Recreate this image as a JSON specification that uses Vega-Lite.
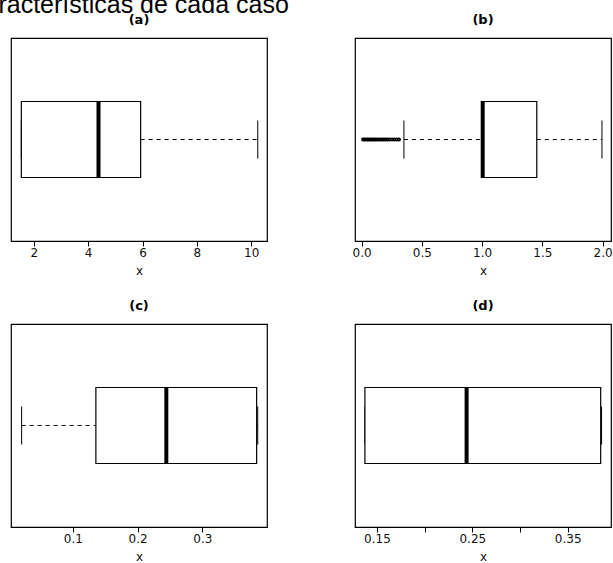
{
  "$schema": "https://vega.github.io/schema/vega-lite/v6.json",
  "background": "white",
  "padding": {"left": -2, "top": -7, "right": 0, "bottom": 0},
  "title": {"text": "racterísticas de cada caso", "anchor": "start", "fontSize": 25, "fontWeight": "normal", "font": "Liberation Sans", "color": "black", "dx": -12, "offset": -5},
  "datasets": {
    "stats": [
      {"panel": "a", "lo": 1.54, "q1": 1.54, "med": 4.38, "q3": 5.93, "hi": 10.24},
      {"panel": "b", "lo": 0.351, "q1": 1.005, "med": 1.005, "q3": 1.454, "hi": 1.995},
      {"panel": "c", "lo": 0.0208, "q1": 0.1355, "med": 0.2443, "q3": 0.3838, "hi": 0.3855},
      {"panel": "d", "lo": 0.1374, "q1": 0.1374, "med": 0.244, "q3": 0.3846, "hi": 0.3855}
    ],
    "outliers": [
      {"panel": "b", "v": 0.012}, {"panel": "b", "v": 0.025}, {"panel": "b", "v": 0.038},
      {"panel": "b", "v": 0.05}, {"panel": "b", "v": 0.063}, {"panel": "b", "v": 0.075},
      {"panel": "b", "v": 0.088}, {"panel": "b", "v": 0.1}, {"panel": "b", "v": 0.113},
      {"panel": "b", "v": 0.125}, {"panel": "b", "v": 0.14}, {"panel": "b", "v": 0.155},
      {"panel": "b", "v": 0.17}, {"panel": "b", "v": 0.185}, {"panel": "b", "v": 0.2},
      {"panel": "b", "v": 0.215}, {"panel": "b", "v": 0.23}, {"panel": "b", "v": 0.25},
      {"panel": "b", "v": 0.27}, {"panel": "b", "v": 0.29}, {"panel": "b", "v": 0.31}
    ]
  },
  "columns": 2,
  "spacing": {"row": 22, "column": 83},
  "concat": [
    {
      "width": 256, "height": 203,
      "title": {"text": "(a)", "fontSize": 13, "fontWeight": "bold", "font": "DejaVu Sans", "color": "black", "offset": 11},
      "data": {"name": "stats"},
      "transform": [{"filter": "datum.panel == 'a'"}],
      "encoding": {"y": {"field": "panel", "type": "nominal", "axis": null, "scale": {"paddingInner": 0, "paddingOuter": 0}}},
      "layer": [
        {"mark": {"type": "rule", "strokeDash": [4, 4], "color": "black", "strokeWidth": 1},
         "encoding": {"x": {"field": "lo", "type": "quantitative", "title": "x", "scale": {"domain": [1.16, 10.58], "nice": false, "zero": false}, "axis": {"values": [2, 4, 6, 8, 10]}}, "x2": {"field": "q1"}}},
        {"mark": {"type": "rule", "strokeDash": [4, 4], "color": "black", "strokeWidth": 1},
         "encoding": {"x": {"field": "q3", "type": "quantitative", "title": "x"}, "x2": {"field": "hi"}}},
        {"mark": {"type": "tick", "size": 38, "thickness": 1, "color": "black", "opacity": 1},
         "encoding": {"x": {"field": "lo", "type": "quantitative", "title": "x"}}},
        {"mark": {"type": "tick", "size": 38, "thickness": 1, "color": "black", "opacity": 1},
         "encoding": {"x": {"field": "hi", "type": "quantitative", "title": "x"}}},
        {"mark": {"type": "bar", "size": 76, "fill": "white", "stroke": "black", "strokeWidth": 1.2},
         "encoding": {"x": {"field": "q1", "type": "quantitative", "title": "x"}, "x2": {"field": "q3"}}},
        {"mark": {"type": "tick", "size": 77, "thickness": 4, "color": "black", "opacity": 1},
         "encoding": {"x": {"field": "med", "type": "quantitative", "title": "x"}}}
      ]
    },
    {
      "width": 256, "height": 203,
      "title": {"text": "(b)", "fontSize": 13, "fontWeight": "bold", "font": "DejaVu Sans", "color": "black", "offset": 11},
      "data": {"name": "stats"},
      "transform": [{"filter": "datum.panel == 'b'"}],
      "encoding": {"y": {"field": "panel", "type": "nominal", "axis": null, "scale": {"paddingInner": 0, "paddingOuter": 0}}},
      "layer": [
        {"mark": {"type": "rule", "strokeDash": [4, 4], "color": "black", "strokeWidth": 1},
         "encoding": {"x": {"field": "lo", "type": "quantitative", "title": "x", "scale": {"domain": [-0.055, 2.07], "nice": false, "zero": false}, "axis": {"values": [0, 0.5, 1, 1.5, 2], "format": ".1f"}}, "x2": {"field": "q1"}}},
        {"mark": {"type": "rule", "strokeDash": [4, 4], "color": "black", "strokeWidth": 1},
         "encoding": {"x": {"field": "q3", "type": "quantitative", "title": "x"}, "x2": {"field": "hi"}}},
        {"mark": {"type": "tick", "size": 38, "thickness": 1, "color": "black", "opacity": 1},
         "encoding": {"x": {"field": "lo", "type": "quantitative", "title": "x"}}},
        {"mark": {"type": "tick", "size": 38, "thickness": 1, "color": "black", "opacity": 1},
         "encoding": {"x": {"field": "hi", "type": "quantitative", "title": "x"}}},
        {"mark": {"type": "bar", "size": 76, "fill": "white", "stroke": "black", "strokeWidth": 1.2},
         "encoding": {"x": {"field": "q1", "type": "quantitative", "title": "x"}, "x2": {"field": "q3"}}},
        {"mark": {"type": "tick", "size": 77, "thickness": 4, "color": "black", "opacity": 1},
         "encoding": {"x": {"field": "med", "type": "quantitative", "title": "x"}}},
        {"data": {"name": "outliers"},
         "mark": {"type": "point", "shape": "circle", "size": 6, "strokeWidth": 1.6, "color": "black", "filled": false, "opacity": 1},
         "encoding": {"x": {"field": "v", "type": "quantitative", "title": "x"}}}
      ]
    },
    {
      "width": 256, "height": 203,
      "title": {"text": "(c)", "fontSize": 13, "fontWeight": "bold", "font": "DejaVu Sans", "color": "black", "offset": 11},
      "data": {"name": "stats"},
      "transform": [{"filter": "datum.panel == 'c'"}],
      "encoding": {"y": {"field": "panel", "type": "nominal", "axis": null, "scale": {"paddingInner": 0, "paddingOuter": 0}}},
      "layer": [
        {"mark": {"type": "rule", "strokeDash": [4, 4], "color": "black", "strokeWidth": 1},
         "encoding": {"x": {"field": "lo", "type": "quantitative", "title": "x", "scale": {"domain": [0.0044, 0.3998], "nice": false, "zero": false}, "axis": {"values": [0.1, 0.2, 0.3], "format": ".1f"}}, "x2": {"field": "q1"}}},
        {"mark": {"type": "rule", "strokeDash": [4, 4], "color": "black", "strokeWidth": 1},
         "encoding": {"x": {"field": "q3", "type": "quantitative", "title": "x"}, "x2": {"field": "hi"}}},
        {"mark": {"type": "tick", "size": 38, "thickness": 1, "color": "black", "opacity": 1},
         "encoding": {"x": {"field": "lo", "type": "quantitative", "title": "x"}}},
        {"mark": {"type": "tick", "size": 38, "thickness": 1, "color": "black", "opacity": 1},
         "encoding": {"x": {"field": "hi", "type": "quantitative", "title": "x"}}},
        {"mark": {"type": "bar", "size": 76, "fill": "white", "stroke": "black", "strokeWidth": 1.2},
         "encoding": {"x": {"field": "q1", "type": "quantitative", "title": "x"}, "x2": {"field": "q3"}}},
        {"mark": {"type": "tick", "size": 77, "thickness": 4, "color": "black", "opacity": 1},
         "encoding": {"x": {"field": "med", "type": "quantitative", "title": "x"}}}
      ]
    },
    {
      "width": 256, "height": 203,
      "title": {"text": "(d)", "fontSize": 13, "fontWeight": "bold", "font": "DejaVu Sans", "color": "black", "offset": 11},
      "data": {"name": "stats"},
      "transform": [{"filter": "datum.panel == 'd'"}],
      "encoding": {"y": {"field": "panel", "type": "nominal", "axis": null, "scale": {"paddingInner": 0, "paddingOuter": 0}}},
      "layer": [
        {"mark": {"type": "rule", "strokeDash": [4, 4], "color": "black", "strokeWidth": 1},
         "encoding": {"x": {"field": "lo", "type": "quantitative", "title": "x", "scale": {"domain": [0.127, 0.3954], "nice": false, "zero": false}, "axis": {"values": [0.15, 0.2, 0.25, 0.3, 0.35], "labelExpr": "(abs(datum.value - 0.2) < 0.001 || abs(datum.value - 0.3) < 0.001) ? '' : format(datum.value, '.2f')"}}, "x2": {"field": "q1"}}},
        {"mark": {"type": "rule", "strokeDash": [4, 4], "color": "black", "strokeWidth": 1},
         "encoding": {"x": {"field": "q3", "type": "quantitative", "title": "x"}, "x2": {"field": "hi"}}},
        {"mark": {"type": "tick", "size": 38, "thickness": 1, "color": "black", "opacity": 1},
         "encoding": {"x": {"field": "lo", "type": "quantitative", "title": "x"}}},
        {"mark": {"type": "tick", "size": 38, "thickness": 1, "color": "black", "opacity": 1},
         "encoding": {"x": {"field": "hi", "type": "quantitative", "title": "x"}}},
        {"mark": {"type": "bar", "size": 76, "fill": "white", "stroke": "black", "strokeWidth": 1.2},
         "encoding": {"x": {"field": "q1", "type": "quantitative", "title": "x"}, "x2": {"field": "q3"}}},
        {"mark": {"type": "tick", "size": 77, "thickness": 4, "color": "black", "opacity": 1},
         "encoding": {"x": {"field": "med", "type": "quantitative", "title": "x"}}}
      ]
    }
  ],
  "config": {
    "view": {"stroke": "black", "strokeWidth": 1.2},
    "font": "DejaVu Sans",
    "axis": {
      "domain": false, "grid": false, "ticks": true, "tickSize": 5, "tickColor": "black", "tickWidth": 1,
      "labelFont": "DejaVu Sans", "labelFontSize": 12, "labelColor": "#111", "labelPadding": 1,
      "labelFlush": false, "labelOverlap": false,
      "titleFont": "DejaVu Sans", "titleFontSize": 12, "titleFontWeight": "normal", "titleColor": "#111", "titlePadding": 7
    }
  }
}
